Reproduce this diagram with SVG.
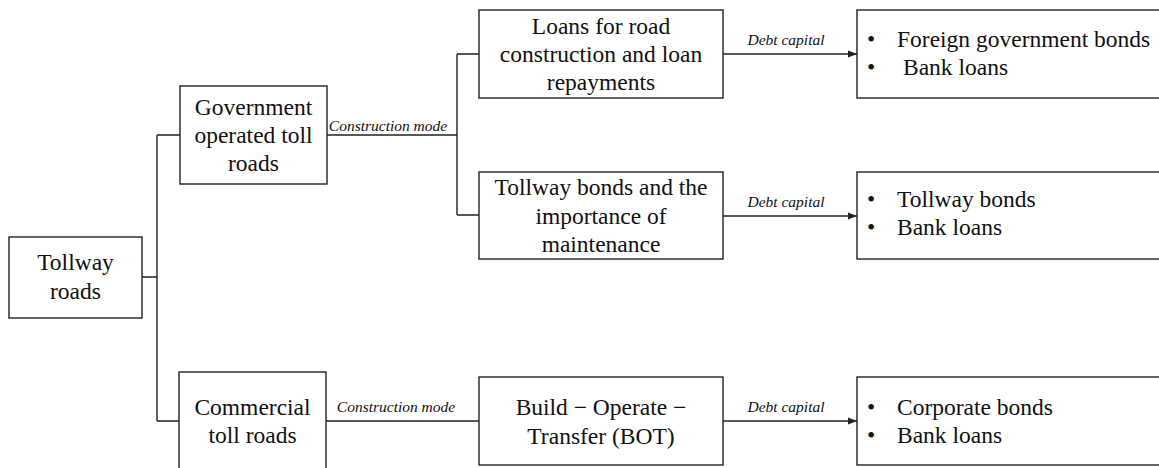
<svg xmlns="http://www.w3.org/2000/svg" width="1159" height="468" viewBox="0 0 1159 468">
<style>
.box{fill:#fff;stroke:#222;stroke-width:1.4}
.ln{fill:none;stroke:#222;stroke-width:1.4}
text{font-family:'Liberation Serif','Times New Roman','DejaVu Serif',serif;fill:#111}
.t{font-size:23.5px;text-anchor:middle}
.tl{font-size:23.5px}
.lab{font-size:15.5px;font-style:italic;text-anchor:middle}
</style>
<defs>
<marker id="arr" markerUnits="userSpaceOnUse" markerWidth="10" markerHeight="8" refX="9" refY="4" orient="auto">
<path d="M0,0.5 L9,4 L0,7.5 Z" fill="#222"/>
</marker>
</defs>
<rect width="1159" height="468" fill="#fff"/>
<g id="connectors">
<path class="ln" d="M142,277 H157 M157,135 V421 M157,135 H180 M157,421 H179"/>
<path class="ln" d="M327,135 H457 M457,54 V215 M457,54 H479 M457,215 H479"/>
<path class="ln" d="M326,421 H479"/>
<path class="ln" d="M723,54 H857" marker-end="url(#arr)"/>
<path class="ln" d="M723,216 H857" marker-end="url(#arr)"/>
<path class="ln" d="M723,421 H857" marker-end="url(#arr)"/>
<text class="lab" x="388" y="131">Construction mode</text>
<text class="lab" x="396" y="412">Construction mode</text>
<text class="lab" x="786" y="45">Debt capital</text>
<text class="lab" x="786" y="207">Debt capital</text>
<text class="lab" x="786" y="412">Debt capital</text>
</g>
<g id="tollway">
<rect class="box" x="9" y="237" width="133" height="81"/>
<text class="t" x="75.5" y="270">Tollway</text>
<text class="t" x="75.5" y="299">roads</text>
</g>
<g id="government">
<rect class="box" x="180" y="86" width="147" height="98"/>
<text class="t" x="253.5" y="115">Government</text>
<text class="t" x="253.5" y="143">operated toll</text>
<text class="t" x="253.5" y="171">roads</text>
</g>
<g id="commercial">
<rect class="box" x="179" y="372" width="147" height="110"/>
<text class="t" x="252.5" y="415">Commercial</text>
<text class="t" x="252.5" y="443">toll roads</text>
</g>
<g id="loans">
<rect class="box" x="479" y="10" width="244" height="88"/>
<text class="t" x="601" y="34">Loans for road</text>
<text class="t" x="601" y="62">construction and loan</text>
<text class="t" x="601" y="90">repayments</text>
</g>
<g id="tollwaybonds">
<rect class="box" x="479" y="172" width="244" height="87"/>
<text class="t" x="601" y="195">Tollway bonds and the</text>
<text class="t" x="601" y="224">importance of</text>
<text class="t" x="601" y="252">maintenance</text>
</g>
<g id="bot">
<rect class="box" x="479" y="377" width="244" height="88"/>
<text class="t" x="601" y="415">Build − Operate −</text>
<text class="t" x="601" y="444">Transfer (BOT)</text>
</g>
<g id="debt1">
<rect class="box" x="857" y="10" width="320" height="88"/>
<text class="tl" x="867" y="47">•</text>
<text class="tl" x="897" y="47">Foreign government bonds</text>
<text class="tl" x="867" y="75">•</text>
<text class="tl" x="903" y="75">Bank loans</text>
</g>
<g id="debt2">
<rect class="box" x="857" y="172" width="320" height="87"/>
<text class="tl" x="867" y="207">•</text>
<text class="tl" x="897" y="207">Tollway bonds</text>
<text class="tl" x="867" y="235">•</text>
<text class="tl" x="897" y="235">Bank loans</text>
</g>
<g id="debt3">
<rect class="box" x="857" y="377" width="320" height="88"/>
<text class="tl" x="867" y="415">•</text>
<text class="tl" x="897" y="415">Corporate bonds</text>
<text class="tl" x="867" y="443">•</text>
<text class="tl" x="897" y="443">Bank loans</text>
</g>
</svg>
